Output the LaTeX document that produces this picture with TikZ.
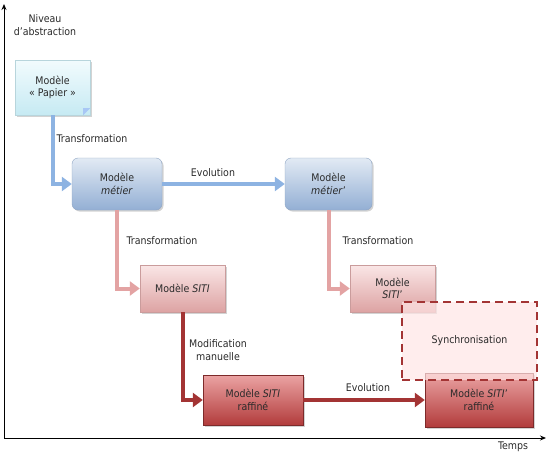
\documentclass[tikz,border=0pt]{standalone}
\usepackage{fontspec}
\setmainfont{DejaVu Sans Condensed}
\usetikzlibrary{arrows.meta,shadows,calc}
\definecolor{txt}{HTML}{2A2A2A}
\definecolor{blueA}{HTML}{8DB3E2}
\definecolor{pinkA}{HTML}{E3A3A3}
\definecolor{redA}{HTML}{A33434}
\definecolor{papT}{HTML}{F2FBFD}
\definecolor{papB}{HTML}{C6EAF3}
\definecolor{metT}{HTML}{E2EAF4}
\definecolor{metB}{HTML}{93AFD4}
\definecolor{sitT}{HTML}{FAE6E6}
\definecolor{sitB}{HTML}{DDA3A3}
\definecolor{rafT}{HTML}{EBA3A3}
\definecolor{rafB}{HTML}{B23C3C}
\tikzset{
  x=1pt,y=-1pt,
  every node/.style={font=\fontsize{10.5}{12.5}\selectfont, text=txt, align=center},
  lbl/.style={inner sep=1pt},
  box/.style={draw=none, minimum width=#1, inner sep=0pt, drop shadow={shadow xshift=1.5pt,shadow yshift=-1.5pt,opacity=0.35}},
  papier/.style={box=75pt, minimum height=55pt, top color=papT, bottom color=papB, draw=papB!80!gray},
  metier/.style={box=90pt, minimum height=52pt, rounded corners=6pt, top color=metT, bottom color=metB, draw=metB!80!gray},
  siti/.style={box=85pt, minimum height=47pt, top color=sitT, bottom color=sitB, draw=sitB!80!gray},
  raff/.style={box=#1, minimum height=50pt, top color=rafT, bottom color=rafB, draw=rafB!70!black},
  barrow/.style={blueA, line width=4pt, -{Triangle[length=10pt,width=14pt]}},
  parrow/.style={pinkA, line width=4pt, -{Triangle[length=10pt,width=14pt]}},
  rarrow/.style={redA, line width=4pt, -{Triangle[length=10pt,width=14pt]}},
  axis/.style={black, line width=0.9pt, -{Stealth[length=6pt,width=5pt]}},
}
\begin{document}
\begin{tikzpicture}
\useasboundingbox (0,0) rectangle (550,455);
% axes
\coordinate (O) at (4,438);
\coordinate (Ytop) at (4,4);
\coordinate (Xend) at (546,438);
\draw[axis] (O) -- (Ytop);
\draw[axis] (O) -- (Xend);
\node[lbl] (niv) at (45,25) {Niveau\\d’abstraction};
\node[lbl] (temps) at (513,447) {Temps};
% nodes
\node[papier] (pap) at (52.5,87.5) {Modèle\\« Papier »};
\fill[papB!85!blue] ($(pap.south east)+(-7,0)$) -- ($(pap.south east)+(0,-7)$) -- ($(pap.south east)+(-7,-7)$) -- cycle;
\node[metier] (met) at (117,184) {Modèle\\\textit{métier}};
\node[metier, minimum width=87pt] (met2) at (328.5,184) {Modèle\\\textit{métier}’};
\node[siti] (siti) at (182.5,288.5) {Modèle \textit{SITI}};
\node[siti] (siti2) at (392.5,288.5) {Modèle\\\textit{SITI}’};
\node[raff=100pt] (raf) at (253,400) {Modèle \textit{SITI}\\raffiné};
\node[raff=108pt, minimum height=54pt] (raf2) at (479,400) {Modèle \textit{SITI}’\\raffiné};
% synchronisation
\node[draw=redA, dashed, dash pattern=on 8pt off 5pt, line width=1.6pt, fill=red!10!white, fill opacity=0.7, text opacity=1, minimum width=135pt, minimum height=78pt] (sync) at (469.5,341) {Synchronisation};
% connectors
\draw[barrow] (pap.south) |- (met.west);
\draw[barrow] (met.east) -- (met2.west);
\draw[parrow] (met.south) |- (siti.west);
\draw[parrow] (met2.south) |- (siti2.west);
\draw[rarrow] (siti.south) |- (raf.west);
\draw[rarrow] (raf.east) -- (raf2.west);
% labels
\node[lbl] (l1) at (92,139) {Transformation};
\node[lbl] (l2) at (213,173) {Evolution};
\node[lbl] (l3) at (162,241) {Transformation};
\node[lbl] (l4) at (378,241) {Transformation};
\node[lbl] (l5) at (218,350) {Modification\\manuelle};
\node[lbl] (l6) at (368,388) {Evolution};
\end{tikzpicture}
\end{document}
